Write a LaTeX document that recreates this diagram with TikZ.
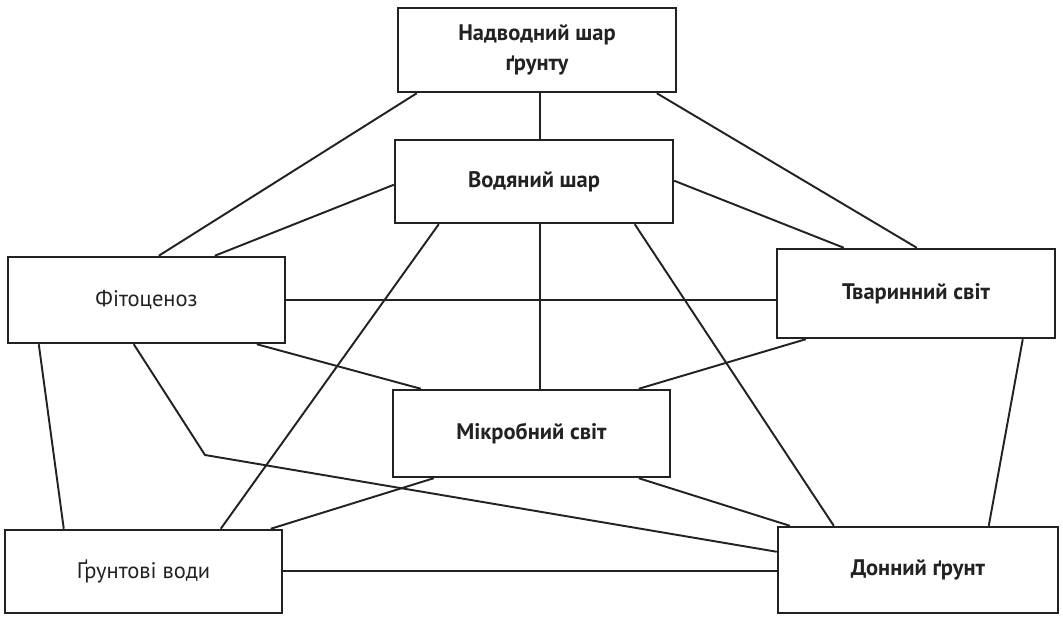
\documentclass[tikz,border=0pt]{standalone}
\usepackage{fontspec}
\setmainfont{PT Sans}
\usetikzlibrary{calc}
\definecolor{ink}{HTML}{222222}
\tikzset{
  bx/.style 2 args={draw=ink, line width=1.4pt, fill=white, inner sep=0pt,
    minimum width=#1*0.02cm, minimum height=#2*0.02cm, align=center,
    font=\fontsize{12.8}{17}\selectfont, text=ink},
  bold/.style={font=\fontsize{12.8}{17}\selectfont\bfseries},
  link/.style={draw=ink, line width=1.1pt},
}
\begin{document}
\begin{tikzpicture}[x=0.02cm,y=-0.02cm]
\useasboundingbox (0,0) rectangle (1063,617);
\fill[white] (0,0) rectangle (1063,617);
\coordinate (bend) at (205,455);

\node[bx={278}{84}, bold] (top) at (537,50) {Надводний шар\\ґрунту};
\node[bx={278}{83}, bold] (water) at (534,181.5) {Водяний шар};
\node[bx={277}{86}] (phyto) at (146.5,300) {Фітоценоз};
\node[bx={278}{89}, bold] (fauna) at (916,293.5) {Тваринний світ};
\node[bx={277}{87}, bold] (micro) at (531.5,433.5) {Мікробний світ};
\node[bx={277}{83}] (ground) at (143.5,571.5) {Ґрунтові води};
\node[bx={280}{86}, bold] (bottom) at (918,570) {Донний ґрунт};

% top box links
\draw[link] ($(top.south west)+(143,0)$) -- ($(water.north west)+(146,0)$);
\draw[link] ($(top.south west)+(20,0)$) -- ($(phyto.north west)+(152,0)$);
\draw[link] ($(top.south west)+(260,0)$) -- ($(fauna.north west)+(141,0)$);
% water links
\draw[link] ($(water.north west)+(0,46)$) -- ($(phyto.north west)+(208,0)$);
\draw[link] ($(water.north east)+(0,42)$) -- ($(fauna.north west)+(68,0)$);
\draw[link] ($(water.south west)+(146,0)$) -- ($(micro.north west)+(148,0)$);
\draw[link] ($(water.south west)+(45,0)$) -- ($(ground.north west)+(217,0)$);
\draw[link] ($(water.south west)+(241,0)$) -- ($(bottom.north west)+(57,0)$);
% phyto links
\draw[link] ($(phyto.north east)+(0,44)$) -- ($(fauna.north west)+(0,52)$);
\draw[link] ($(phyto.south west)+(250,0)$) -- ($(micro.north west)+(29,0)$);
\draw[link] ($(phyto.south west)+(32,0)$) -- ($(ground.north west)+(60,0)$);
\draw[link] ($(phyto.south west)+(127,0)$) -- (bend) -- ($(bottom.north west)+(0,26)$);
% fauna links
\draw[link] ($(fauna.south west)+(30,0)$) -- ($(micro.north west)+(247,0)$);
\draw[link] ($(fauna.south west)+(247,0)$) -- ($(bottom.north west)+(212,0)$);
% micro links
\draw[link] ($(micro.south west)+(42,0)$) -- ($(ground.north west)+(267,0)$);
\draw[link] ($(micro.south west)+(247,0)$) -- ($(bottom.north west)+(13,0)$);
% ground - bottom
\draw[link] ($(ground.north east)+(0,42)$) -- ($(bottom.north west)+(0,45)$);
\end{tikzpicture}
\end{document}
